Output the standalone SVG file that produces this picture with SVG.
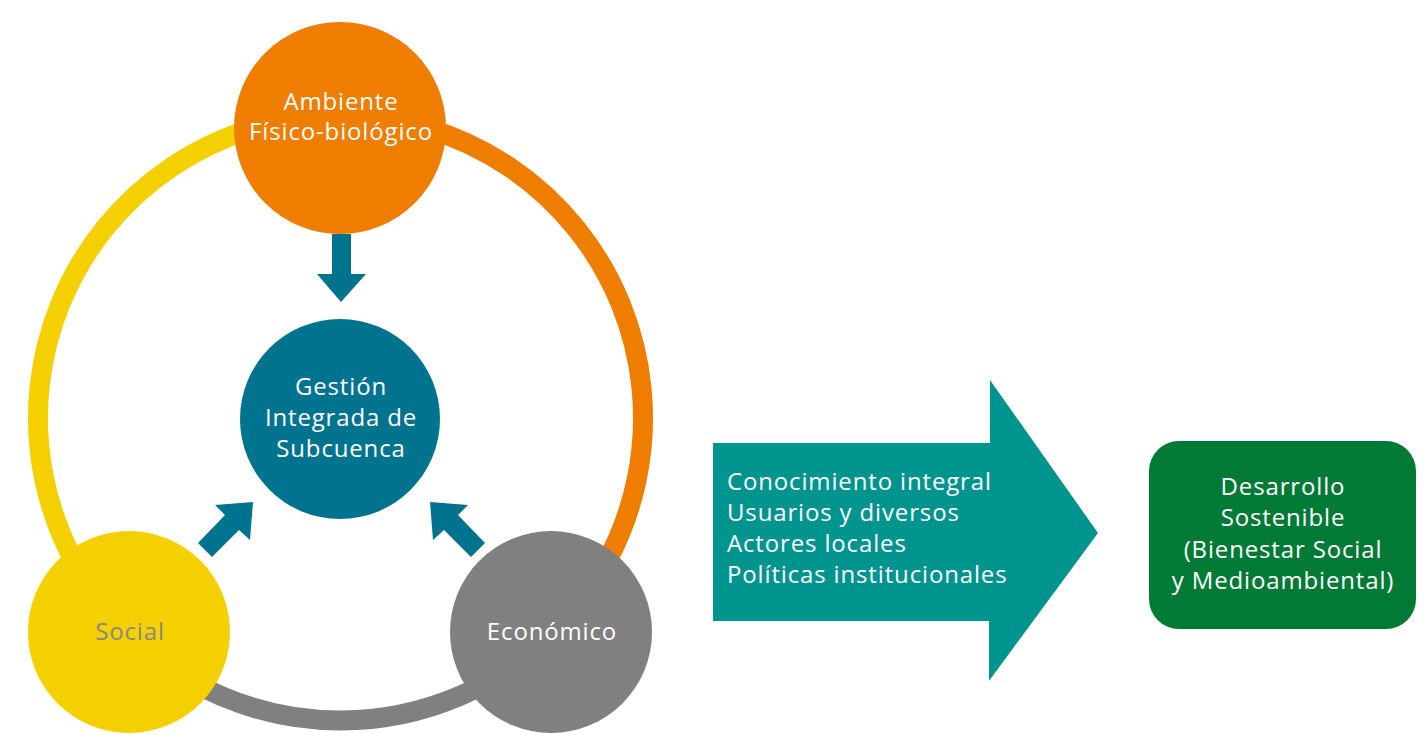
<svg xmlns="http://www.w3.org/2000/svg" width="1424" height="735" viewBox="0 0 1424 735">
<style>
.t{font-family:"Open Sans","Noto Sans",sans-serif;font-size:24px;fill:#fff;letter-spacing:0.85px}
.c{text-anchor:middle}
.ring{fill:none;stroke-width:20}
.blue{fill:#00738F}
</style>
<rect width="1424" height="735" fill="#fff"/>
<g id="connectors">
<path class="ring" stroke="#F4D000" d="M 340.5 115.5 A 302.5 302.5 0 0 0 127.7 633"/>
<path class="ring" stroke="#EF7D00" d="M 340.5 115.5 A 302.5 302.5 0 0 1 552.5 633.8"/>
<path class="ring" stroke="#808080" d="M 552.5 633.8 A 302.5 302.5 0 0 1 127.7 633"/>
<polygon class="blue" points="332,234 351,234 351,274 366,274 341,302 317,274 332,274"/>
<polygon class="blue" points="253,502 215,505 225,515 198,543 212,557 239,530 250,540"/>
<polygon class="blue" points="430,502 468,505 458,515 485,543 471,557 444,530 433,540"/>
</g>
<g id="ambiente">
<circle cx="340" cy="128" r="106" fill="#EF7D00"/>
<text class="t c" x="341" y="110">Ambiente</text>
<text class="t c" x="341" y="140">Físico-biológico</text>
</g>
<g id="gestion">
<circle cx="340" cy="419" r="100" class="blue"/>
<text class="t c" x="341" y="395">Gestión</text>
<text class="t c" x="341" y="426">Integrada de</text>
<text class="t c" x="341" y="457">Subcuenca</text>
</g>
<g id="social">
<circle cx="129" cy="632" r="101" fill="#F4D000"/>
<text class="t c" x="130" y="640" style="fill:#888888">Social</text>
</g>
<g id="economico">
<circle cx="551" cy="632" r="101" fill="#808080"/>
<text class="t c" x="552" y="640">Económico</text>
</g>
<g id="flecha">
<polygon fill="#00948F" points="713,443 990,443 990,380 1098,533 989,681 989,621 713,621"/>
<text class="t" x="727" y="490">Conocimiento integral</text>
<text class="t" x="727" y="521">Usuarios y diversos</text>
<text class="t" x="727" y="552">Actores locales</text>
<text class="t" x="727" y="583">Políticas institucionales</text>
</g>
<g id="desarrollo">
<rect x="1149" y="441" width="267" height="188" rx="30" fill="#007A35"/>
<text class="t c" x="1283" y="495">Desarrollo</text>
<text class="t c" x="1283" y="526">Sostenible</text>
<text class="t c" x="1283" y="558">(Bienestar Social</text>
<text class="t c" x="1283" y="589">y Medioambiental)</text>
</g>
</svg>
